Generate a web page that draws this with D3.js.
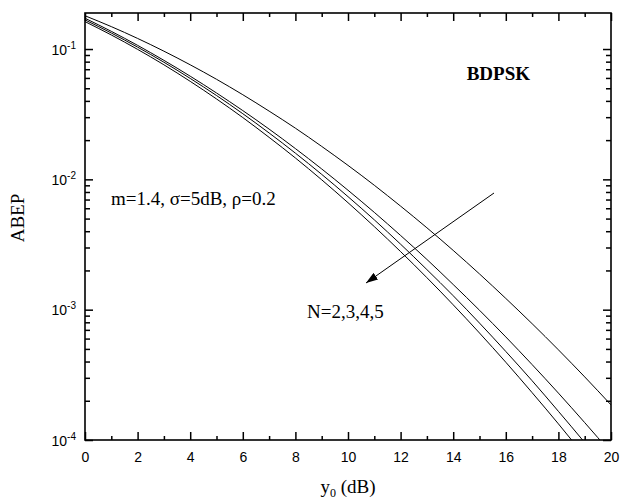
<!DOCTYPE html>
<html>
<head>
<meta charset="utf-8">
<script src="https://cdn.jsdelivr.net/npm/d3@7"></script>
<style>
  html, body { margin: 0; padding: 0; background: #fff; }
  svg { display: block; }
</style>
</head>
<body>
<svg id="chart" width="622" height="500"></svg>
<script>
// Average bit error probability of BDPSK versus average SNR per branch
const snrDb = [0,1,2,3,4,5,6,7,8,9,10,11,12,13,14,15,16,17,18,19,20];
const abepN2 = [0.180,0.1486,0.1206,0.0963,0.0757,0.0586,0.0446,0.0334,0.0247,0.0179,0.0128,0.00901,0.00623,0.00425,0.00285,0.00188,0.00122,7.81e-4,4.92e-4,3.05e-4,1.86e-4];
const abepN3 = [0.1723,0.1367,0.1067,0.0819,0.0619,0.0460,0.0337,0.0243,0.01722,0.01202,0.00825,0.00558,0.00371,0.00243,0.00156,9.90e-4,6.18e-4,3.79e-4,2.29e-4,1.36e-4,7.97e-5];
const abepN4 = [0.1673,0.1327,0.1034,0.0792,0.0595,0.0440,0.0319,0.0227,0.01589,0.01092,0.00737,0.00489,0.00318,0.00203,0.00128,7.89e-4,4.78e-4,2.85e-4,1.66e-4,9.56e-5,5.39e-5];
const abepN5 = [0.1623,0.1282,0.0994,0.0757,0.0565,0.0414,0.0298,0.0210,0.01459,0.00992,0.00662,0.00434,0.00279,0.00176,0.00109,6.62e-4,3.95e-4,2.31e-4,1.33e-4,7.49e-5,4.14e-5];
const seriesList = [abepN2, abepN3, abepN4, abepN5];

const xMajorTicks = [0,2,4,6,8,10,12,14,16,18,20];
const yMajorExponents = [-1,-2,-3,-4];

const margin = {left: 85, right: 11, top: 13, bottom: 60};
const W = 622, H = 500;
const x0 = margin.left, x1 = W - margin.right;
const y0 = margin.top, y1 = H - margin.bottom;

const svg = d3.select("#chart");
const x = d3.scaleLinear().domain([0, 20]).range([x0, x1]);
const y = d3.scaleLog().domain([1e-4, 0.189]).range([y1, y0]);

const tickFont = "'Liberation Sans', Arial, sans-serif";
const serifFont = "'Liberation Serif', 'Times New Roman', serif";

// clip for curves
svg.append("defs").append("clipPath").attr("id", "plotClip")
  .append("rect").attr("x", x0).attr("y", y0).attr("width", x1 - x0).attr("height", y1 - y0);

// curves
const line = d3.line()
  .x((d, i) => x(snrDb[i]))
  .y(d => y(d))
  .curve(d3.curveMonotoneX);

svg.append("g").attr("clip-path", "url(#plotClip)")
  .selectAll("path").data(seriesList).join("path")
  .attr("d", line)
  .attr("fill", "none")
  .attr("stroke", "#000")
  .attr("stroke-width", 1);

// minor tick values
const xMinor = d3.range(0, 21, 1).filter(v => v % 2 !== 0);
const yMinor = [];
yMajorExponents.forEach(e => {
  for (let k = 2; k <= 9; k++) {
    const v = k * Math.pow(10, e);
    if (v >= 1e-4 && v <= 0.189) yMinor.push(v);
  }
});
const yMajor = yMajorExponents.map(e => Math.pow(10, e));

// axes drawn with d3 axis generators, ticks pointing into the plot
function styleAxis(g) {
  g.select(".domain").remove();
  g.selectAll("line").attr("stroke", "#000").attr("stroke-width", 1.5);
}

// bottom
svg.append("g").attr("transform", `translate(0,${y1})`)
  .call(d3.axisBottom(x).tickValues(xMajorTicks).tickSizeInner(-8).tickSizeOuter(0).tickPadding(12).tickFormat(d3.format("d")))
  .call(styleAxis)
  .call(g => g.selectAll("text").attr("font-family", tickFont).attr("font-size", 14).attr("fill", "#000"));
svg.append("g").attr("transform", `translate(0,${y1})`)
  .call(d3.axisBottom(x).tickValues(xMinor).tickSizeInner(-4).tickSizeOuter(0).tickFormat(""))
  .call(styleAxis);
// top
svg.append("g").attr("transform", `translate(0,${y0})`)
  .call(d3.axisTop(x).tickValues(xMajorTicks).tickSizeInner(-8).tickSizeOuter(0).tickFormat(""))
  .call(styleAxis);
svg.append("g").attr("transform", `translate(0,${y0})`)
  .call(d3.axisTop(x).tickValues(xMinor).tickSizeInner(-4).tickSizeOuter(0).tickFormat(""))
  .call(styleAxis);
// left
svg.append("g").attr("transform", `translate(${x0},0)`)
  .call(d3.axisLeft(y).tickValues(yMajor).tickSizeInner(-8).tickSizeOuter(0).tickFormat(""))
  .call(styleAxis);
svg.append("g").attr("transform", `translate(${x0},0)`)
  .call(d3.axisLeft(y).tickValues(yMinor).tickSizeInner(-5).tickSizeOuter(0).tickFormat(""))
  .call(styleAxis);
// right
svg.append("g").attr("transform", `translate(${x1},0)`)
  .call(d3.axisRight(y).tickValues(yMajor).tickSizeInner(-8).tickSizeOuter(0).tickFormat(""))
  .call(styleAxis);
svg.append("g").attr("transform", `translate(${x1},0)`)
  .call(d3.axisRight(y).tickValues(yMinor).tickSizeInner(-5).tickSizeOuter(0).tickFormat(""))
  .call(styleAxis);

// y tick labels as 10 with superscript exponent
const yLabels = svg.append("g");
yMajorExponents.forEach(e => {
  const t = yLabels.append("text")
    .attr("x", x0 - 9).attr("y", y(Math.pow(10, e)) + 5.5)
    .attr("text-anchor", "end")
    .attr("font-family", tickFont).attr("font-size", 14).attr("fill", "#000");
  t.append("tspan").text("10");
  t.append("tspan").attr("font-size", 10).attr("dy", -6).text(String(e));
});

// frame
svg.append("rect")
  .attr("x", x0).attr("y", y0).attr("width", x1 - x0).attr("height", y1 - y0)
  .attr("fill", "none").attr("stroke", "#000").attr("stroke-width", 1.6);

// axis titles
const xt = svg.append("text")
  .attr("x", (x0 + x1) / 2).attr("y", 493)
  .attr("text-anchor", "middle")
  .attr("font-family", serifFont).attr("font-size", 19).attr("fill", "#000");
xt.append("tspan").text("y");
xt.append("tspan").attr("font-size", 12).attr("dy", 4).text("0");
xt.append("tspan").attr("dy", -4).text(" (dB)");

svg.append("text")
  .attr("transform", `translate(24,218) rotate(-90)`)
  .attr("text-anchor", "middle")
  .attr("font-family", serifFont).attr("font-size", 19).attr("fill", "#000")
  .text("ABEP");

// annotations
svg.append("text")
  .attr("x", 530).attr("y", 80).attr("text-anchor", "end")
  .attr("font-family", serifFont).attr("font-size", 19).attr("font-weight", "bold").attr("fill", "#000")
  .text("BDPSK");

svg.append("text")
  .attr("x", 111).attr("y", 205)
  .attr("font-family", serifFont).attr("font-size", 19).attr("fill", "#000")
  .text("m=1.4, σ=5dB, ρ=0.2");

svg.append("text")
  .attr("x", 307).attr("y", 318)
  .attr("font-family", serifFont).attr("font-size", 19).attr("fill", "#000")
  .text("N=2,3,4,5");

// arrow showing increasing N
svg.select("defs").append("marker")
  .attr("id", "arrowHead")
  .attr("viewBox", "0 0 12 8").attr("refX", 12).attr("refY", 4)
  .attr("markerWidth", 12).attr("markerHeight", 8)
  .attr("markerUnits", "userSpaceOnUse")
  .attr("orient", "auto")
  .append("path").attr("d", "M0,0 L12,4 L0,8 Z").attr("fill", "#000");

svg.append("line")
  .attr("x1", 494).attr("y1", 193).attr("x2", 366).attr("y2", 283)
  .attr("stroke", "#000").attr("stroke-width", 1)
  .attr("marker-end", "url(#arrowHead)");
</script>
</body>
</html>
